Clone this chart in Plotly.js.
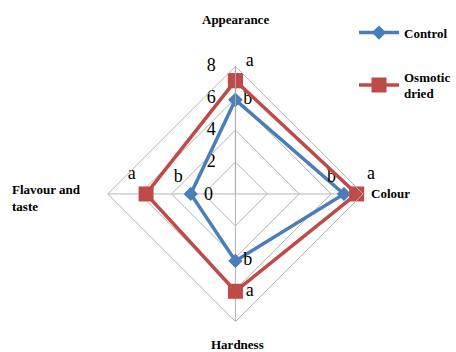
<!DOCTYPE html>
<html>
<head>
<meta charset="utf-8">
<script src="https://cdn.plot.ly/plotly-3.0.1.min.js"></script>
<style>
  body { margin: 0; background: #fff; }
  #radar { width: 456px; height: 352px; }
</style>
</head>
<body>
<div id="radar"></div>
<script>
// attributes around the radar, clockwise from the top
let attributes = ['Appearance', 'Colour', 'Hardness', 'Flavour and taste'];
let controlScores = [5.9, 6.8, 4.2, 2.8];
let osmoticScores = [7.1, 7.6, 6.1, 5.6];
let controlLetters = ['b', 'b', 'b', 'b'];
let osmoticLetters = ['a', 'a', 'a', 'a'];
let radialTicks = [0, 2, 4, 6, 8];

function closeLoop(arr){
  return arr.concat([arr[0]]);
}

let serif = 'Liberation Serif';

let control = {
  type: 'scatterpolar',
  name: 'Control',
  legendgroup: 'c',
  r: closeLoop(controlScores),
  theta: closeLoop(attributes),
  mode: 'lines+markers+text',
  text: closeLoop(controlLetters).map((t, i) => i < 4 ? t : ''),
  textposition: ['middle right', 'top left', 'middle right', 'top left', 'middle right'],
  textfont: {family: serif, size: 18, color: '#000'},
  line: {color: '#4A7EBB', width: 3.5},
  marker: {symbol: 'diamond', size: 11, color: '#4A7EBB'}
};

let osmotic = {
  type: 'scatterpolar',
  name: 'Osmotic<br>dried',
  legendgroup: 'o',
  r: closeLoop(osmoticScores),
  theta: closeLoop(attributes),
  mode: 'lines+markers+text',
  text: closeLoop(osmoticLetters).map((t, i) => i < 4 ? t : ''),
  textposition: ['top right', 'top right', 'middle right', 'top left', 'top right'],
  textfont: {family: serif, size: 18, color: '#000'},
  line: {color: '#BE4B48', width: 3.5},
  marker: {symbol: 'square', size: 15, color: '#BE4B48'}
};

// radial tick labels sit to the left of the top spoke;
// the invisible marker pushes the text away from the line
let tickLabels = {
  type: 'scatterpolar',
  r: radialTicks.slice(1),
  theta: radialTicks.slice(1).map(() => attributes[0]),
  mode: 'markers+text',
  marker: {size: 30, opacity: 0},
  text: radialTicks.slice(1).map(String),
  textposition: 'middle left',
  textfont: {family: serif, size: 18, color: '#000'},
  cliponaxis: false,
  showlegend: false,
  hoverinfo: 'skip'
};

let labelFont = {family: serif, size: 13, color: '#000', weight: 700};

let notes = [
  {text: 'Appearance', x: 238, y: 20},
  {text: 'Colour', x: 395, y: 193},
  {text: 'Hardness', x: 240, y: 344},
  {text: 'Flavour and<br>taste', x: 10, y: 198, xanchor: 'left', align: 'left'}
].map(a => Object.assign({
  xref: 'paper', yref: 'paper', showarrow: false,
  xanchor: 'center', yanchor: 'middle', font: labelFont
}, a, {x: a.x / 456, y: 1 - a.y / 352}));

// the zero label at the centre is not drawn by the polar text trace
notes.push({
  text: String(radialTicks[0]), xref: 'paper', yref: 'paper',
  x: 211 / 456, y: 1 - 194 / 352, showarrow: false,
  xanchor: 'center', yanchor: 'middle',
  font: {family: serif, size: 18, color: '#000'}
});

let layout = {
  width: 456,
  height: 352,
  margin: {l: 0, r: 0, t: 0, b: 0},
  paper_bgcolor: '#fff',
  showlegend: true,
  legend: {
    x: 0.785, y: 0.95, xanchor: 'left', yanchor: 'top',
    font: {family: serif, size: 13, color: '#000', weight: 700},
    traceorder: 'grouped',
    tracegroupgap: 24, itemwidth: 40
  },
  polar: {
    domain: {x: [0.239, 0.805], y: [0.086, 0.812]},
    gridshape: 'linear',
    bgcolor: 'rgba(0,0,0,0)',
    radialaxis: {
      range: [0, 8],
      tickvals: radialTicks,
      showticklabels: false,
      angle: 90,
      showline: true,
      linecolor: '#aaa',
      gridcolor: '#b4b4b4',
      ticks: ''
    },
    angularaxis: {
      rotation: 90,
      direction: 'clockwise',
      showticklabels: false,
      ticks: '',
      linecolor: '#b4b4b4',
      gridcolor: '#b4b4b4'
    }
  },
  annotations: notes
};

Plotly.newPlot('radar', [tickLabels, control, osmotic], layout, {displayModeBar: false});
</script>
</body>
</html>
